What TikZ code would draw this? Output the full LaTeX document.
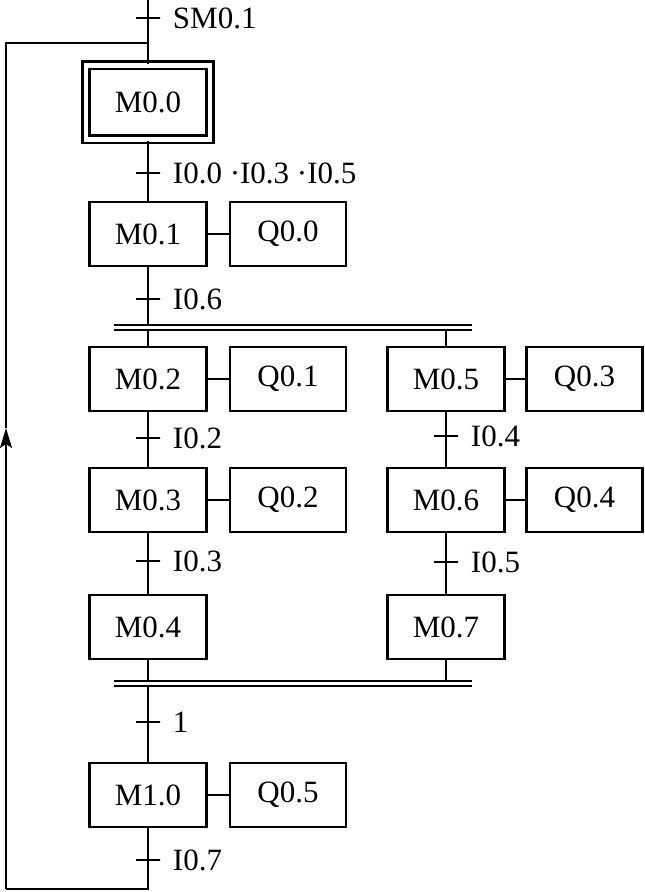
\documentclass[tikz,border=0pt]{standalone}
\usepackage{fontspec}
\setmainfont{Liberation Serif}
\usetikzlibrary{arrows.meta}

\begin{document}
\begin{tikzpicture}[
        x=0.5pt, y=-0.5pt,
        every node/.style={font=\fontsize{15.5}{18}\selectfont},
        stepbox/.style={
            draw,
            line width=1.4pt,
            minimum width=58.5pt,
            minimum height=32pt,
            inner sep=0pt
        },
        initbox/.style={stepbox, double, double distance=2.2pt, minimum width=62pt, minimum height=37pt},
        actbox/.style={stepbox, minimum width=58pt},
        trans/.style={draw, line width=0.9pt, minimum width=12pt, minimum height=0pt, inner sep=0pt,
            label={[label distance=2.5pt]right:#1}},
        link/.style={line width=0.9pt},
        syncbar/.style={line width=0.9pt, double, double distance=1.6pt}
    ]
    \useasboundingbox (0,0) rectangle (644,892);

    % Paso inicial
    \coordinate (top) at (148,0);
    \node[trans=SM0.1] (t0) at (148,18) {};
    \node[initbox] (M00) at (148,102.5) {M0.0};
    \node[trans={I0.0 ·I0.3 ·I0.5}] (t1) at (148,173) {};

    % Paso M0.1
    \node[stepbox] (M01) at (148,234) {M0.1};
    \node[actbox] (Q00) at (288,234) {Q0.0};
    \node[trans=I0.6] (t2) at (148,299) {};

    % Barras de simultaneidad
    \coordinate (b1l) at (114,327.5);
    \coordinate (b1r) at (472,327.5);
    \coordinate (b2l) at (114,683.5);
    \coordinate (b2r) at (472,683.5);

    % Rama izquierda
    \node[stepbox] (M02) at (148,379) {M0.2};
    \node[actbox] (Q01) at (288,379) {Q0.1};
    \node[trans=I0.2] (t3) at (148,438) {};
    \node[stepbox] (M03) at (148,500) {M0.3};
    \node[actbox] (Q02) at (288,500) {Q0.2};
    \node[trans=I0.3] (t5) at (148,561) {};
    \node[stepbox] (M04) at (148,627) {M0.4};

    % Rama derecha
    \node[stepbox] (M05) at (446,379) {M0.5};
    \node[actbox] (Q03) at (584.5,379) {Q0.3};
    \node[trans=I0.4] (t4) at (446,436) {};
    \node[stepbox] (M06) at (446,500) {M0.6};
    \node[actbox] (Q04) at (584.5,500) {Q0.4};
    \node[trans=I0.5] (t6) at (446,562) {};
    \node[stepbox] (M07) at (446,627) {M0.7};

    % Paso final
    \node[trans=1] (t7) at (148,722) {};
    \node[stepbox] (M10) at (148,795) {M1.0};
    \node[actbox] (Q05) at (288,795) {Q0.5};
    \node[trans=I0.7] (t8) at (148,860) {};

    % Lazo de retorno
    \coordinate (lbot) at (6,889);
    \coordinate (larr) at (6,428);
    \coordinate (ltop) at (6,43);

    % Conexiones
    \draw[link] (top) -- (M00);
    \draw[link] (M00) -- (M01);
    \draw[link] (M01) -- (M01 |- b1l);
    \draw[link] (M02 |- b1l) -- (M02);
    \draw[link] (M05 |- b1l) -- (M05);
    \draw[link] (M02) -- (M03);
    \draw[link] (M03) -- (M04);
    \draw[link] (M05) -- (M06);
    \draw[link] (M06) -- (M07);
    \draw[link] (M04) -- (M04 |- b2l);
    \draw[link] (M07) -- (M07 |- b2l);
    \draw[link] (M04 |- b2l) -- (M10);
    \foreach \m/\q in {M01/Q00, M02/Q01, M03/Q02, M05/Q03, M06/Q04, M10/Q05}
        \draw[link] (\m) -- (\q);

    \draw[link] (M10) |- (lbot);
    \draw[link, -{Stealth[length=10pt, width=6pt, inset=2pt]}] (lbot) -- (larr);
    \draw[link] (larr) -- (ltop) -- (ltop -| M00);

    \draw[syncbar] (b1l) -- (b1r);
    \draw[syncbar] (b2l) -- (b2r);

    \end{tikzpicture}
\end{document}
